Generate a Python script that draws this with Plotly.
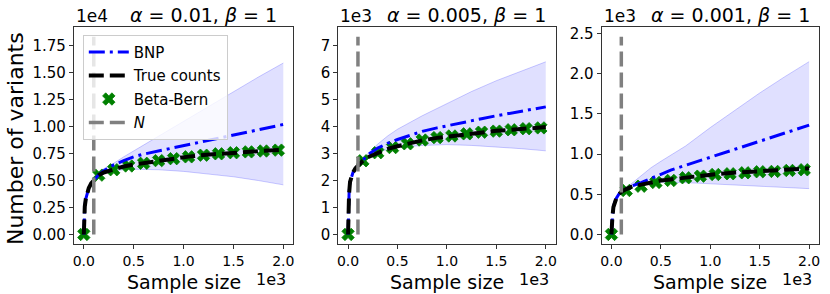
import numpy as np
import plotly.graph_objects as go

# ---------------- data ----------------
sample_sizes = [0, 2, 5, 10, 20, 30, 50, 75, 100, 150, 200, 300, 400, 500, 600,
                750, 900, 1050, 1200, 1350, 1500, 1650, 1800, 2000]
band_sizes = [100, 150, 200, 300, 400, 500, 750, 1000, 1250, 1500, 1750, 2000]
marker_sizes = [0, 150, 300, 450, 600, 750, 900, 1050, 1200, 1350, 1500, 1650, 1800, 1950]
N_train = 100

titles = ["<i>α</i> = 0.01, <i>β</i> = 1",
          "<i>α</i> = 0.005, <i>β</i> = 1",
          "<i>α</i> = 0.001, <i>β</i> = 1"]

# panel 1 (alpha = 0.01)
true_1 = [0, 1000, 1800, 2600, 3300, 3700, 4300, 4750, 5050, 5500, 5750, 6050, 6300,
          6480, 6620, 6850, 7050, 7220, 7370, 7490, 7590, 7680, 7760, 7860]
bnp_1 = [0, 1000, 1800, 2600, 3300, 3700, 4300, 4750, 5050, 5550, 5900, 6450, 6850,
         7200, 7450, 7750, 8050, 8350, 8650, 8900, 9200, 9500, 9800, 10200]
upper_1 = [5050, 5700, 6100, 6600, 7200, 7750, 9100, 10500, 11900, 13200, 14600, 15900]
lower_1 = [5050, 5450, 5700, 5900, 6000, 6050, 6000, 5850, 5600, 5350, 5000, 4600]
betabern_1 = [0, 5500, 6000, 6350, 6600, 6850, 7030, 7200, 7350, 7480, 7580, 7660, 7740, 7820]
n_top_1 = 18340

# panel 2 (alpha = 0.005)
true_2 = [0, 500, 1000, 1500, 1950, 2100, 2300, 2450, 2550, 2730, 2860, 3030, 3170,
          3270, 3360, 3490, 3580, 3650, 3730, 3790, 3840, 3880, 3920, 3980]
bnp_2 = [0, 500, 1000, 1500, 1950, 2100, 2300, 2450, 2550, 2780, 2950, 3200, 3380,
         3520, 3650, 3820, 3950, 4070, 4180, 4290, 4400, 4500, 4600, 4730]
upper_2 = [2550, 2800, 3000, 3350, 3650, 3900, 4400, 4850, 5300, 5700, 6050, 6400]
lower_2 = [2550, 2750, 2900, 3050, 3150, 3220, 3300, 3330, 3300, 3250, 3180, 3100]
betabern_2 = [0, 2730, 3030, 3220, 3360, 3500, 3590, 3650, 3730, 3790, 3830, 3880, 3920, 3950]
n_top_2 = 7330

# panel 3 (alpha = 0.001)
true_3 = [0, 70, 140, 220, 340, 390, 450, 500, 530, 565, 590, 620, 650, 670, 685,
          710, 730, 750, 765, 777, 789, 799, 809, 822]
bnp_3 = [0, 70, 140, 220, 340, 390, 450, 500, 530, 570, 600, 645, 700, 755, 800,
         860, 920, 980, 1040, 1100, 1160, 1220, 1280, 1360]
upper_3 = [530, 580, 640, 740, 830, 910, 1100, 1330, 1550, 1760, 1960, 2150]
lower_3 = [530, 560, 590, 620, 640, 650, 645, 630, 615, 600, 585, 570]
betabern_3 = [0, 547, 600, 647, 672, 705, 725, 746, 755, 767, 780, 784, 796, 805]
n_top_3 = 2460

y_scales = [1e4, 1e3, 1e3]
y_scale_labels = ["1e4", "1e3", "1e3"]
x_scale = 1e3
y_tickvals = [[0, 0.25, 0.5, 0.75, 1.0, 1.25, 1.5, 1.75],
              [0, 1, 2, 3, 4, 5, 6, 7],
              [0, 0.5, 1.0, 1.5, 2.0, 2.5]]
y_ticktext = [["0.00", "0.25", "0.50", "0.75", "1.00", "1.25", "1.50", "1.75"],
              ["0", "1", "2", "3", "4", "5", "6", "7"],
              ["0.0", "0.5", "1.0", "1.5", "2.0", "2.5"]]
x_tickvals = [0, 0.5, 1.0, 1.5, 2.0]
x_ticktext = ["0.0", "0.5", "1.0", "1.5", "2.0"]

panels = [
    (true_1, bnp_1, upper_1, lower_1, betabern_1, n_top_1),
    (true_2, bnp_2, upper_2, lower_2, betabern_2, n_top_2),
    (true_3, bnp_3, upper_3, lower_3, betabern_3, n_top_3),
]

# ---------------- layout geometry ----------------
W, H = 830, 294
x_px = [(73, 293), (338, 556), (602, 820)]
y_px = (25, 244)
FONT = "DejaVu Sans"

fig = go.Figure()
xs = np.array(sample_sizes) / x_scale
bx = np.array(band_sizes) / x_scale
mx = np.array(marker_sizes) / x_scale

for i, (tr, bnp, up, lo, bb, ntop) in enumerate(panels):
    sc = y_scales[i]
    xa = "x" if i == 0 else f"x{i+1}"
    ya = "y" if i == 0 else f"y{i+1}"
    show = (i == 0)
    # band
    fig.add_trace(go.Scatter(x=bx, y=np.array(lo) / sc, mode="lines",
                             line=dict(color="rgba(0,0,255,0.25)", width=0.8),
                             showlegend=False, hoverinfo="skip", xaxis=xa, yaxis=ya))
    fig.add_trace(go.Scatter(x=bx, y=np.array(up) / sc, mode="lines", fill="tonexty",
                             fillcolor="rgba(0,0,255,0.12)",
                             line=dict(color="rgba(0,0,255,0.25)", width=0.8),
                             showlegend=False, hoverinfo="skip", xaxis=xa, yaxis=ya))
    # beta-bern markers
    fig.add_trace(go.Scatter(x=mx, y=np.array(bb) / sc, mode="markers", name="Beta-Bern",
                             marker=dict(symbol="x", size=11, color="#008000",
                                         line=dict(color="#008000", width=0.8)),
                             showlegend=show, legendrank=3, legendgroup="c",
                             xaxis=xa, yaxis=ya))
    # BNP
    fig.add_trace(go.Scatter(x=xs, y=np.array(bnp) / sc, mode="lines", name="BNP",
                             line=dict(color="#0000ff", width=3, dash="16px,5px,3px,5px"),
                             showlegend=show, legendrank=1, legendgroup="a",
                             xaxis=xa, yaxis=ya))
    # true counts
    fig.add_trace(go.Scatter(x=xs, y=np.array(tr) / sc, mode="lines", name="True counts",
                             line=dict(color="#000000", width=4, dash="15px,6px"),
                             showlegend=show, legendrank=2, legendgroup="b",
                             xaxis=xa, yaxis=ya))
    # N line
    fig.add_trace(go.Scatter(x=[N_train / x_scale, N_train / x_scale], y=[0, ntop / sc],
                             mode="lines", name="<i>N</i>",
                             line=dict(color="#808080", width=3.5, dash="15px,6px"),
                             showlegend=show, legendrank=4, legendgroup="d",
                             xaxis=xa, yaxis=ya))

layout = dict(width=W, height=H, autosize=False,
              margin=dict(l=0, r=0, t=0, b=0),
              paper_bgcolor="white", plot_bgcolor="white",
              font=dict(family=FONT, size=15, color="black"),
              legend=dict(x=82 / W, y=1 - 33 / H, xanchor="left", yanchor="top",
                          traceorder="grouped", tracegroupgap=1, itemwidth=40,
                          bgcolor="rgba(255,255,255,0.8)", bordercolor="#cccccc",
                          borderwidth=1, font=dict(size=15, family=FONT)),
              annotations=[])

ann = []
for i in range(3):
    sc = y_scales[i]
    tr, bnp, up, lo, bb, ntop = panels[i]
    m = ntop / sc
    yr = [-0.05 * m, 1.05 * m]
    xkey = "xaxis" if i == 0 else f"xaxis{i+1}"
    ykey = "yaxis" if i == 0 else f"yaxis{i+1}"
    xd = [x_px[i][0] / W, x_px[i][1] / W]
    yd = [1 - y_px[1] / H, 1 - y_px[0] / H]
    common = dict(showline=True, linecolor="#333333", linewidth=1, mirror=True,
                  ticks="outside", ticklen=4, tickcolor="#333333", showgrid=False,
                  zeroline=False)
    layout[xkey] = dict(domain=xd, range=[-0.1, 2.1], tickvals=x_tickvals,
                        ticktext=x_ticktext, anchor="y" if i == 0 else f"y{i+1}",
                        tickfont=dict(size=14, family=FONT, color="black"), **common)
    layout[ykey] = dict(domain=yd, range=yr, tickvals=y_tickvals[i],
                        ticktext=y_ticktext[i], anchor="x" if i == 0 else f"x{i+1}",
                        tickfont=dict(size=15, family=FONT, color="black"), **common)
    cx = (x_px[i][0] + x_px[i][1]) / 2
    ann.append(dict(text=titles[i], x=(cx + 20) / W, y=1 - 13 / H, xref="paper", yref="paper",
                    xanchor="center", yanchor="middle", showarrow=False,
                    font=dict(size=19, family=FONT)))
    ann.append(dict(text=y_scale_labels[i], x=x_px[i][0] / W, y=1 - 14 / H, xref="paper",
                    yref="paper", xanchor="left", yanchor="middle", showarrow=False,
                    font=dict(size=17, family=FONT)))
    ann.append(dict(text="Sample size", x=cx / W, y=1 - 282 / H, xref="paper", yref="paper",
                    xanchor="center", yanchor="middle", showarrow=False, borderpad=0,
                    font=dict(size=19, family=FONT)))
    ann.append(dict(text="1e3", x=(x_px[i][1] - 6) / W, y=1 - 279 / H, xref="paper",
                    yref="paper", xanchor="right", yanchor="middle", showarrow=False,
                    borderpad=0, font=dict(size=16, family=FONT)))

ann.append(dict(text="Number of variants", x=14 / W, y=1 - 137 / H, xref="paper", yref="paper",
                xanchor="center", yanchor="middle", textangle=-90, showarrow=False,
                font=dict(size=22, family=FONT)))
layout["annotations"] = ann
fig.update_layout(**layout)

fig.write_html("out.html", config={"displayModeBar": False},
               post_script="document.body.style.margin='0px';"
                           "document.body.style.overflow='hidden';")
